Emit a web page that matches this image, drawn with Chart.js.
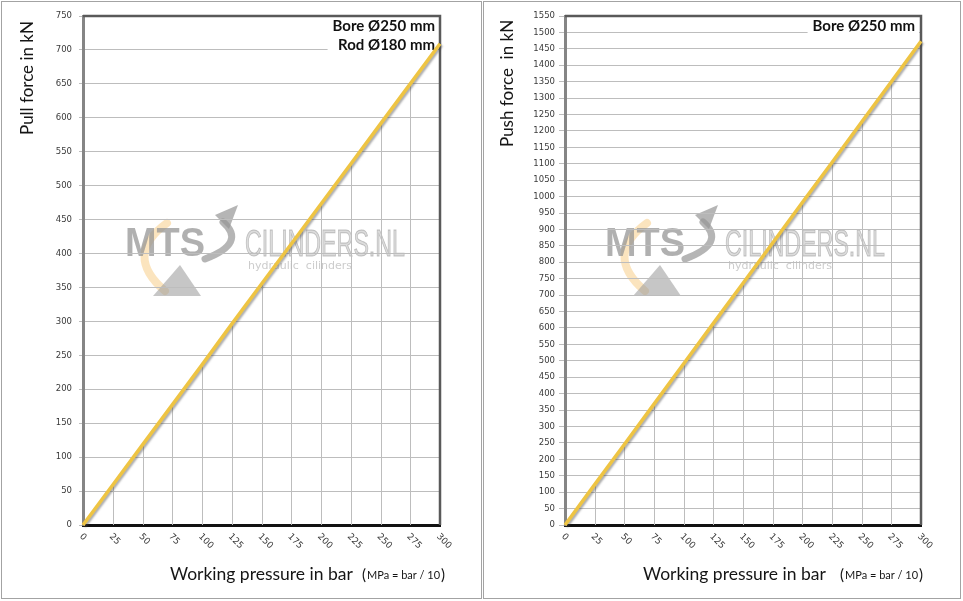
<!DOCTYPE html>
<html><head><meta charset="utf-8">
<script src="https://cdn.jsdelivr.net/npm/chart.js@4.4.0/dist/chart.umd.min.js"></script>
<style>
html,body{margin:0;padding:0;background:#fff;width:963px;height:601px;overflow:hidden}
.panel{position:absolute;top:1px;height:598px;box-sizing:border-box;border:1px solid #a3a3a3;background:#fff}
#p1{left:1px;width:481px}
#p2{left:483px;width:478px}
canvas{display:block}
</style></head><body>
<div class="panel" id="p1"><canvas id="c1" width="479" height="596"></canvas></div>
<div class="panel" id="p2"><canvas id="c2" width="476" height="596"></canvas></div>
<script>
// ---- data ----
const pressure = [0, 25, 50, 75, 100, 125, 150, 175, 200, 225, 250, 275, 300];
const pullForce = [0, 59, 118, 177, 236, 296, 355, 414, 473, 532, 591, 650, 709];
const pushForce = [0, 123, 245, 368, 491, 614, 736, 859, 982, 1104, 1227, 1350, 1473];
const xTickLabels = ['0', '25', '50', '75', '100', '125', '150', '175', '200', '225', '250', '275', '300'];
const pullAxisMax = 750;
const pushAxisMax = 1550;
const forceStep = 50;
const pullNotes = ['Bore Ø250 mm', 'Rod Ø180 mm'];
const pushNotes = ['Bore Ø250 mm'];
const pullYTitle = 'Pull force in kN';
const pushYTitle = 'Push force  in kN';
const xTitle = 'Working pressure in bar';
const xTitleNote = 'MPa = bar / 10';
const wmBrand = 'MTS';
const wmSite = 'CILINDERS.NL';
const wmTag = 'hydraulic  cilinders';

const GRID = '#bdbdbd';
const TICKFONT = '9px "DejaVu Sans"';

function drawWatermark(ctx, x0, y0) {
  ctx.save();
  ctx.translate(x0, y0);
  // orange crescent
  ctx.strokeStyle = 'rgba(246,196,110,0.45)';
  ctx.lineWidth = 8;
  ctx.lineCap = 'round';
  ctx.beginPath();
  ctx.moveTo(42, 18);
  ctx.quadraticCurveTo(-2, 50, 40, 86);
  ctx.stroke();
  // gray triangle
  ctx.fillStyle = 'rgba(160,160,160,0.6)';
  ctx.beginPath();
  ctx.moveTo(55, 60); ctx.lineTo(28, 91); ctx.lineTo(76, 91); ctx.closePath();
  ctx.fill();
  // MTS
  ctx.fillStyle = 'rgba(150,150,150,0.75)';
  ctx.font = 'bold 40px "Liberation Sans"';
  ctx.textAlign = 'left'; ctx.textBaseline = 'alphabetic';
  ctx.fillText(wmBrand, 0, 51, 80);
  // swoosh
  ctx.strokeStyle = 'rgba(150,150,150,0.7)';
  ctx.lineWidth = 7;
  ctx.beginPath();
  ctx.moveTo(80, 54);
  ctx.quadraticCurveTo(122, 38, 98, 17);
  ctx.stroke();
  ctx.fillStyle = 'rgba(150,150,150,0.7)';
  ctx.beginPath();
  ctx.moveTo(113, 0); ctx.lineTo(90, 10); ctx.lineTo(104, 24); ctx.closePath();
  ctx.fill();
  // CILINDERS.NL
  ctx.font = '36px "Liberation Sans"';
  ctx.fillStyle = 'rgba(205,205,205,0.7)';
  ctx.strokeStyle = 'rgba(150,150,150,0.55)';
  ctx.lineWidth = 1;
  ctx.fillText(wmSite, 120, 51, 160);
  ctx.strokeText(wmSite, 120, 51, 160);
  // tagline
  ctx.font = '11px "DejaVu Sans"';
  ctx.fillStyle = 'rgba(195,195,195,0.85)';
  ctx.fillText(wmTag, 123, 64, 118);
  ctx.restore();
}

const decoPlugin = {
  id: 'deco',
  beforeDraw(chart, args, o) {
    const a = chart.chartArea;
    drawWatermark(chart.ctx, a.left + o.wmDx, a.top + 189);
  },
  beforeDatasetsDraw(chart, args, o) {
    const { ctx, chartArea: a, scales: { x, y } } = chart;
    const pts = chart.data.datasets[0].data;
    ctx.save();
    // drop lines under the curve
    ctx.strokeStyle = GRID; ctx.lineWidth = 1;
    pts.forEach(p => {
      if (p.x <= x.min || p.x >= x.max) return;
      const px = Math.round(x.getPixelForValue(p.x)) + 0.5;
      ctx.beginPath();
      ctx.moveTo(px, y.getPixelForValue(p.y));
      ctx.lineTo(px, y.getPixelForValue(0));
      ctx.stroke();
    });
    // top/right frame
    ctx.strokeStyle = '#595959'; ctx.lineWidth = 2.5;
    ctx.beginPath();
    ctx.moveTo(a.left, a.top); ctx.lineTo(a.right, a.top); ctx.lineTo(a.right, a.bottom);
    ctx.stroke();
    // notes box + text
    ctx.font = 'bold 15px Lato';
    const w = Math.max(...o.notes.map(t => ctx.measureText(t).width));
    const rx = a.right - o.noteRight;
    const lastBase = a.top + 15 + (o.notes.length - 1) * 19;
    ctx.fillStyle = '#fff';
    ctx.fillRect(rx - w - 5, a.top + 2, w + 5 + o.noteRight - 2, lastBase + 7 - (a.top + 2));
    ctx.fillStyle = '#111';
    ctx.textAlign = 'right'; ctx.textBaseline = 'alphabetic';
    o.notes.forEach((t, i) => ctx.fillText(t, rx, a.top + 15 + i * 19));
    ctx.restore();
  },
  beforeDatasetDraw(chart) {
    const ctx = chart.ctx;
    ctx.save();
    ctx.shadowColor = 'rgba(70,70,70,0.45)';
    ctx.shadowOffsetX = 1.5; ctx.shadowOffsetY = 1.5; ctx.shadowBlur = 2;
  },
  afterDatasetDraw(chart) { chart.ctx.restore(); },
  afterDraw(chart, args, o) {
    const { ctx, chartArea: a, scales: { x } } = chart;
    ctx.save();
    // rotated x tick labels
    ctx.font = TICKFONT; ctx.fillStyle = '#3a3a3a';
    ctx.textAlign = 'left'; ctx.textBaseline = 'top';
    pressure.forEach((v, i) => {
      const px = x.getPixelForValue(v);
      ctx.save();
      ctx.translate(px + 1, a.bottom + 7);
      ctx.rotate(Math.PI / 4);
      ctx.fillText(xTickLabels[i], 0, 0);
      ctx.restore();
    });
    // x title
    ctx.fillStyle = '#151515';
    ctx.textBaseline = 'alphabetic';
    ctx.font = '17.5px Lato';
    ctx.fillText(xTitle, a.left + o.xtDx, a.bottom + 55);
    let nx = a.left + o.ntDx;
    const ny = a.bottom + 55;
    ctx.font = '15px Lato';
    ctx.fillText('(', nx, ny); nx += ctx.measureText('(').width + 1;
    ctx.font = '11px Lato';
    ctx.fillText(xTitleNote, nx, ny - 1); nx += ctx.measureText(xTitleNote).width + 1;
    ctx.font = '15px Lato';
    ctx.fillText(')', nx, ny);
    // y title
    ctx.save();
    ctx.translate(o.ytX, o.ytY);
    ctx.rotate(-Math.PI / 2);
    ctx.font = '17px Lato';
    ctx.fillText(o.yTitle, 0, 0);
    ctx.restore();
    ctx.restore();
  }
};

function makeChart(id, values, yMax, cfg) {
  return new Chart(document.getElementById(id), {
    type: 'scatter',
    data: {
      datasets: [{
        data: pressure.map((p, i) => ({ x: p, y: values[i] })),
        showLine: true,
        borderColor: '#eec443',
        borderWidth: 3.5,
        pointRadius: 0,
        pointHoverRadius: 0,
        tension: 0,
        clip: 6
      }]
    },
    options: {
      responsive: false,
      maintainAspectRatio: false,
      animation: false,
      devicePixelRatio: 1,
      events: [],
      layout: { padding: { left: 0, right: cfg.padRight, top: 14, bottom: 0 } },
      plugins: {
        legend: { display: false },
        tooltip: { enabled: false },
        deco: cfg
      },
      scales: {
        x: {
          type: 'linear', min: 0, max: 300,
          ticks: { display: false, stepSize: 25 },
          grid: { display: false, drawTicks: false },
          border: { display: true, color: '#111', width: 3 },
          afterFit(s) { s.height = 73; }
        },
        y: {
          type: 'linear', min: 0, max: yMax,
          ticks: {
            stepSize: forceStep, autoSkip: false, padding: cfg.tickPad, color: '#3a3a3a',
            font: { family: 'DejaVu Sans', size: 8.5 },
            callback: v => String(v)
          },
          grid: { color: GRID, lineWidth: 1, tickLength: cfg.tickLen, drawTicks: true },
          border: { display: true, color: '#858585', width: 3 },
          afterFit(s) { s.width = 81; }
        }
      }
    },
    plugins: [decoPlugin]
  });
}

makeChart('c1', pullForce, pullAxisMax, {
  padRight: 41, tickPad: 7, tickLen: 4, notes: pullNotes, noteRight: 5,
  yTitle: pullYTitle, ytX: 31, ytY: 133, xtDx: 87, ntDx: 279, wmDx: 42
});
makeChart('c2', pushForce, pushAxisMax, {
  padRight: 39, tickPad: 4, tickLen: 6, notes: pushNotes, noteRight: 6,
  yTitle: pushYTitle, ytX: 29, ytY: 145, xtDx: 78, ntDx: 275, wmDx: 40
});
</script>
</body></html>
